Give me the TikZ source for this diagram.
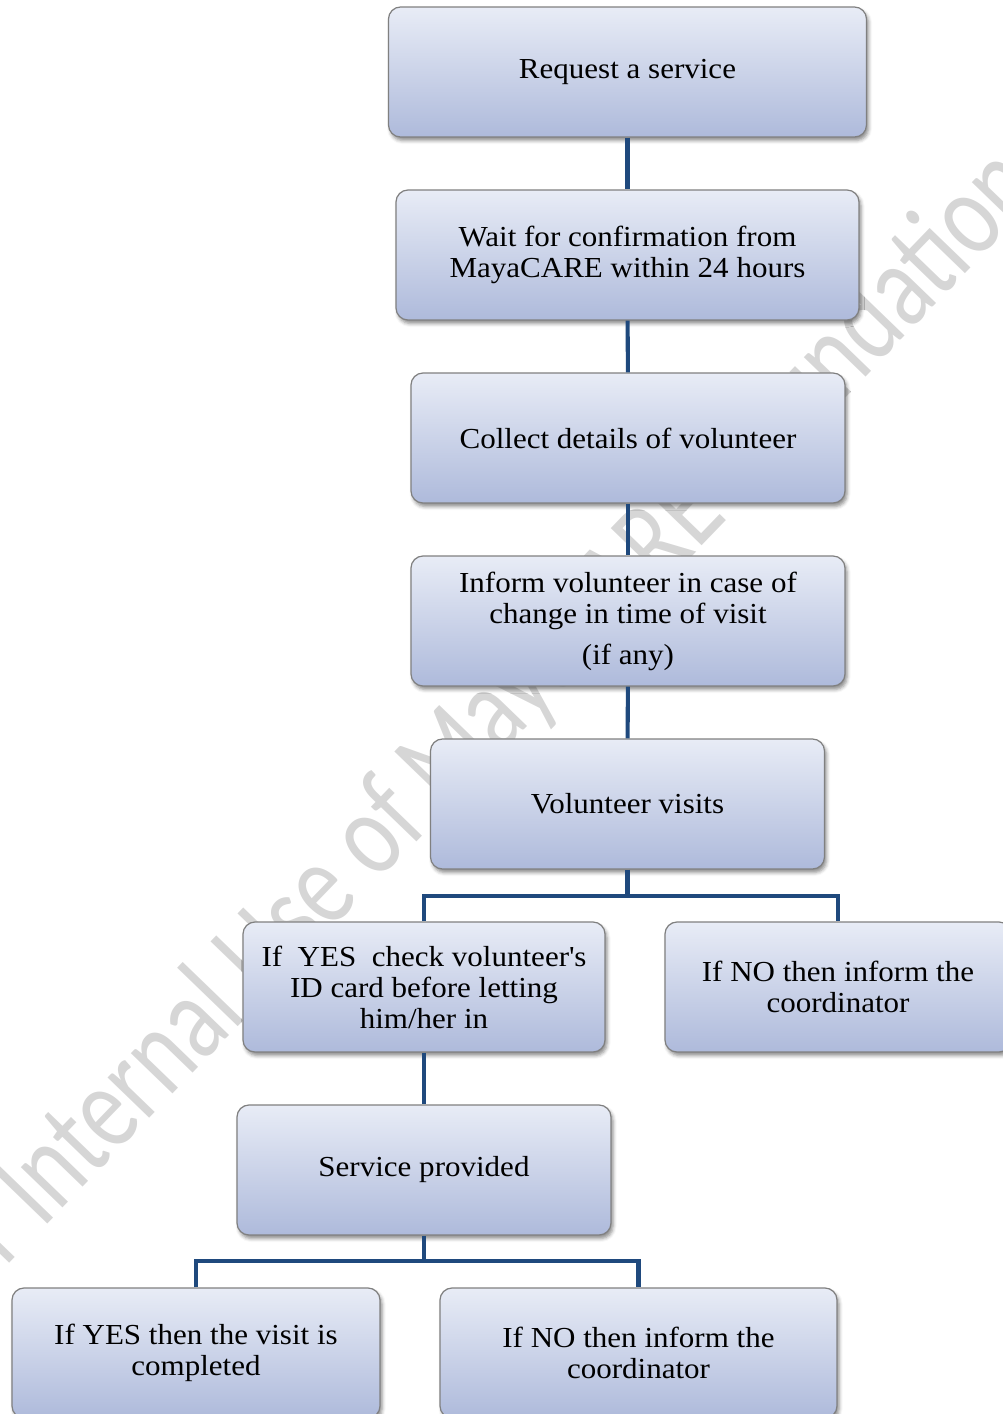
\documentclass[tikz,border=0pt]{standalone}
\usepackage{fontspec}
\setmainfont[FakeStretch=1.07]{Liberation Serif}
\newfontfamily\markfont[FakeStretch=0.77]{Carlito}
\usetikzlibrary{shadows.blur}
\definecolor{boxtop}{HTML}{E8ECF6}
\definecolor{boxbot}{HTML}{AEBADB}
\definecolor{boxline}{HTML}{808080}
\definecolor{linkblue}{HTML}{1F497D}
\tikzset{
    flowbox/.style={rounded corners=0.24cm,draw=boxline,line width=0.7pt,
        top color=boxtop,bottom color=boxbot,minimum height=2.6cm,align=center,
        font=\fontsize{16.5}{17.6}\selectfont,
        blur shadow={shadow xshift=0.04cm,shadow yshift=-0.07cm,shadow blur radius=0.07cm,shadow opacity=45}},
    link/.style={draw=linkblue,line width=2.3pt}
}
\begin{document}
\begin{tikzpicture}
    \useasboundingbox (0,0) rectangle (20.06,-28.28);
    \clip (0,0) rectangle (20.06,-28.28);
    \node[rotate=46,text=black!16,font=\markfont\fontsize{69}{72}\selectfont] (mark) at (9.4,-14.8)
        {For Internal Use of MayaCARE Foundation};
    \foreach \name/\x/\y/\w/\txt in {%
        req/12.55/-1.44/9.56/{Request a service},
        wait/12.55/-5.10/9.26/{Wait for confirmation from\\MayaCARE within 24 hours},
        collect/12.56/-8.76/8.68/{Collect details of volunteer},
        inform/12.56/-12.42/8.68/{Inform volunteer in case of\\change in time of visit\\[0.2cm](if any)},
        visit/12.55/-16.08/7.88/{Volunteer visits},
        checkid/8.48/-19.74/7.24/{If~ YES~ check volunteer\textquotesingle s\\ID card before letting\\him/her in},
        informA/16.76/-19.74/6.92/{If NO then inform the\\coordinator},
        service/8.48/-23.40/7.48/{Service provided},
        done/3.92/-27.06/7.36/{If YES then the visit is\\completed},
        informB/12.77/-27.06/7.94/{If NO then inform the\\coordinator}}{%
        \node[flowbox,minimum width=\w cm] (\name) at (\x,\y) {\txt};
    }
    \foreach \a/\b in {req/wait,wait/collect,collect/inform,inform/visit,checkid/service}
        \draw[link] (\a) -- (\b);
    \draw[link] (visit.south) -- ++(0,-0.52) coordinate (forkA);
    \draw[link] (checkid.north) |- (forkA) -| (informA.north);
    \draw[link] (service.south) -- ++(0,-0.5) coordinate (forkB);
    \draw[link] (done.north) |- (forkB) -| (informB.north);
\end{tikzpicture}
\end{document}
